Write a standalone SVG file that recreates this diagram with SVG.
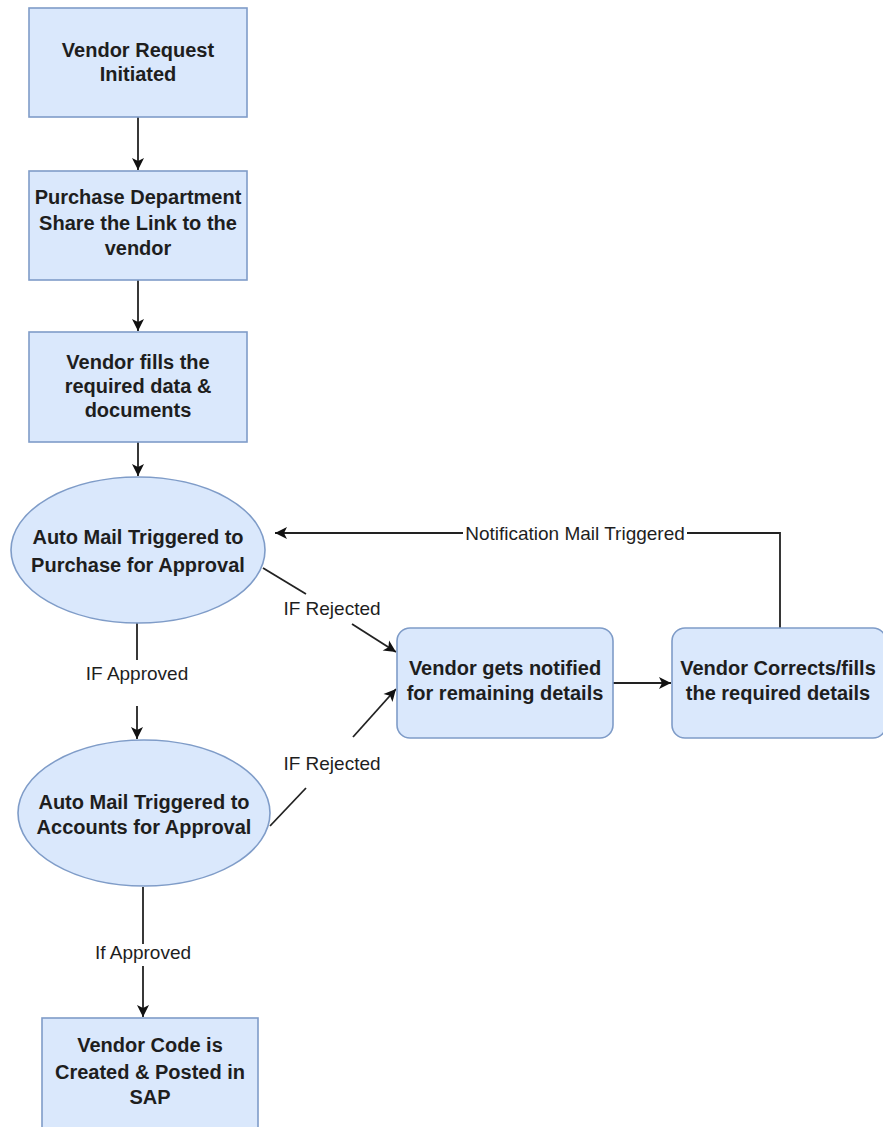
<svg xmlns="http://www.w3.org/2000/svg" width="883" height="1127" viewBox="0 0 883 1127">
<style>
.node{fill:#dae8fc;stroke:#7f9cc8;stroke-width:1.6}
.nt{font-family:"Liberation Sans",Arial,sans-serif;font-size:20px;font-weight:bold;fill:#1e1e1e;text-anchor:middle}
.el{font-family:"Liberation Sans",Arial,sans-serif;font-size:19px;fill:#1e1e1e;text-anchor:middle}
.edge{fill:none;stroke:#222;stroke-width:1.8}
</style>
<defs>
<marker id="arr" markerUnits="userSpaceOnUse" markerWidth="14" markerHeight="14" viewBox="0 0 14 14" refX="13" refY="7" orient="auto">
<path d="M1,1 L13,7 L1,13 L4,7 Z" fill="#111"/>
</marker>
</defs>
<rect width="883" height="1127" fill="#fff"/>
<g id="connectors">
<line class="edge" x1="138" y1="117" x2="138" y2="170" marker-end="url(#arr)"/>
<line class="edge" x1="138" y1="280" x2="138" y2="331" marker-end="url(#arr)"/>
<line class="edge" x1="138" y1="442" x2="138" y2="476" marker-end="url(#arr)"/>
<line class="edge" x1="137" y1="623" x2="137" y2="660"/>
<line class="edge" x1="137" y1="706" x2="137" y2="739" marker-end="url(#arr)"/>
<line class="edge" x1="143" y1="887" x2="143" y2="944"/>
<line class="edge" x1="143" y1="966" x2="143" y2="1017" marker-end="url(#arr)"/>
<line class="edge" x1="263" y1="568" x2="306" y2="594"/>
<line class="edge" x1="352" y1="624" x2="396" y2="652" marker-end="url(#arr)"/>
<line class="edge" x1="270" y1="826" x2="306" y2="788"/>
<line class="edge" x1="353" y1="737" x2="396" y2="689" marker-end="url(#arr)"/>
<line class="edge" x1="613" y1="683" x2="671" y2="683" marker-end="url(#arr)"/>
<path class="edge" d="M780,628 V533 H275" marker-end="url(#arr)"/>
<rect x="463" y="521" width="224" height="24" fill="#fff"/>
<text class="el" x="575" y="540">Notification Mail Triggered</text>
<text class="el" x="137" y="680">IF Approved</text>
<text class="el" x="143" y="959">If Approved</text>
<text class="el" x="332" y="615">IF Rejected</text>
<text class="el" x="332" y="770">IF Rejected</text>
</g>
<g id="n1">
<rect class="node" x="29" y="8" width="218" height="109"/>
<text class="nt" x="138" y="57">Vendor Request</text>
<text class="nt" x="138" y="81">Initiated</text>
</g>
<g id="n2">
<rect class="node" x="29" y="171" width="218" height="109"/>
<text class="nt" x="138" y="204">Purchase Department</text>
<text class="nt" x="138" y="230">Share the Link to the</text>
<text class="nt" x="138" y="255">vendor</text>
</g>
<g id="n3">
<rect class="node" x="29" y="332" width="218" height="110"/>
<text class="nt" x="138" y="369">Vendor fills the</text>
<text class="nt" x="138" y="393">required data &amp;</text>
<text class="nt" x="138" y="417">documents</text>
</g>
<g id="n4">
<ellipse class="node" cx="138" cy="550" rx="127" ry="73"/>
<text class="nt" x="138" y="544">Auto Mail Triggered to</text>
<text class="nt" x="138" y="572">Purchase for Approval</text>
</g>
<g id="n5">
<ellipse class="node" cx="144" cy="813" rx="126" ry="73"/>
<text class="nt" x="144" y="809">Auto Mail Triggered to</text>
<text class="nt" x="144" y="834">Accounts for Approval</text>
</g>
<g id="n6">
<rect class="node" x="42" y="1018" width="216" height="112"/>
<text class="nt" x="150" y="1052">Vendor Code is</text>
<text class="nt" x="150" y="1079">Created &amp; Posted in</text>
<text class="nt" x="150" y="1104">SAP</text>
</g>
<g id="n7">
<rect class="node" x="397" y="628" width="216" height="110" rx="13"/>
<text class="nt" x="505" y="675">Vendor gets notified</text>
<text class="nt" x="505" y="700">for remaining details</text>
</g>
<g id="n8">
<rect class="node" x="672" y="628" width="214" height="110" rx="13"/>
<text class="nt" x="778" y="675">Vendor Corrects/fills</text>
<text class="nt" x="778" y="700">the required details</text>
</g>
</svg>
